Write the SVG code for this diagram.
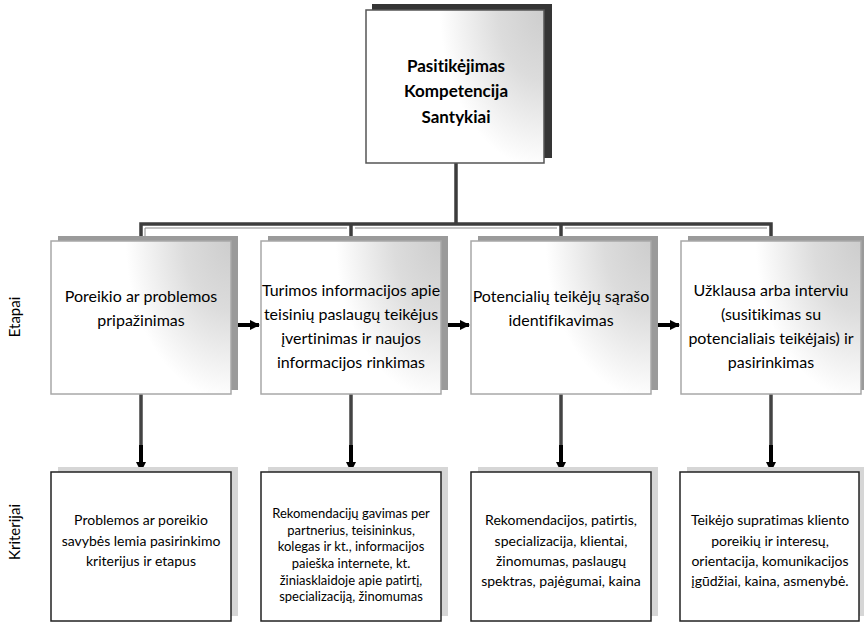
<svg xmlns="http://www.w3.org/2000/svg" width="864" height="626" viewBox="0 0 864 626">
<style>
text{font-family:Lato,"Noto Sans","Liberation Sans",sans-serif;fill:#000;text-anchor:middle;font-variant-ligatures:none;}
.top{font-size:17px;font-weight:bold;}
.st{font-size:16px;}
.cr{font-size:14px;}
.cr2{font-size:13px;}
.lbl{font-size:15px;}
.conn{fill:none;stroke:#3c3c3c;stroke-width:3.5;}
.connin{fill:none;stroke:#8a8a8a;stroke-width:1;}
.arr{fill:none;stroke:#000;stroke-width:4;}
.down{fill:none;stroke:#444;stroke-width:3.5;}
.stbox{fill:url(#g);stroke:#a8a8a8;stroke-width:1.5;}
.stsh{fill:#9a9a9a;}
.crbox{fill:#fff;stroke:#222;stroke-width:1.5;}
.crsh{fill:#d6d6d6;}
</style>
<defs>
<radialGradient id="g" cx="1" cy="0" r="1" fx="1" fy="0" gradientTransform="translate(1,0) scale(0.65,1.15) translate(-1,0)">
<stop offset="0" stop-color="#cdcdcd"/>
<stop offset="0.4" stop-color="#dcdcdc"/>
<stop offset="0.9" stop-color="#fff"/>
</radialGradient>
<marker id="ah" viewBox="0 0 10 10" refX="9" refY="5" markerWidth="2.6" markerHeight="2.6" orient="auto" markerUnits="strokeWidth">
<path d="M0,0 L10,5 L0,10 z" fill="#000"/>
</marker>
</defs>

<g id="connectors">
<path class="conn" d="M456,163 V224 M141,237 V224 H771 V237 M351,224 V237 M561,224 V237"/>
<path class="connin" d="M145,237 V228 H347 M355,228 H557 M565,228 H767"/>
<path class="arr" marker-end="url(#ah)" d="M232,325 H259"/>
<path class="arr" marker-end="url(#ah)" d="M442,325 H469"/>
<path class="arr" marker-end="url(#ah)" d="M652,325 H679"/>
<path class="down" d="M141,394 V446 M351,394 V446 M561,394 V446 M771,394 V446"/>
<path class="arr" marker-end="url(#ah)" d="M141,445 V471"/>
<path class="arr" marker-end="url(#ah)" d="M351,445 V471"/>
<path class="arr" marker-end="url(#ah)" d="M561,445 V471"/>
<path class="arr" marker-end="url(#ah)" d="M771,445 V471"/>
</g>

<g id="top">
<rect x="372" y="4" width="180" height="154" fill="#353535"/>
<rect x="366" y="10" width="178" height="153" fill="url(#g)" stroke="#555" stroke-width="1.5"/>
<text class="top" x="456" y="72">Pasitikėjimas</text>
<text class="top" x="456" y="97">Kompetencija</text>
<text class="top" x="456" y="123">Santykiai</text>
</g>

<g id="label-etapai"><text class="lbl" transform="translate(20,317) rotate(-90)">Etapai</text></g>
<g id="label-kriterijai"><text class="lbl" transform="translate(20,532) rotate(-90)">Kriterijai</text></g>

<g id="stage1">
<rect class="stsh" x="58" y="236" width="180" height="154"/>
<rect class="stbox" x="51" y="241" width="180" height="153"/>
<text class="st" x="141" y="302">Poreikio ar problemos</text>
<text class="st" x="141" y="326">pripažinimas</text>
</g>
<g id="stage2">
<rect class="stsh" x="268" y="236" width="180" height="154"/>
<rect class="stbox" x="261" y="241" width="180" height="153"/>
<text class="st" x="351" y="296">Turimos informacijos apie</text>
<text class="st" x="351" y="320">teisinių paslaugų teikėjus</text>
<text class="st" x="351" y="344">įvertinimas ir naujos</text>
<text class="st" x="351" y="368">informacijos rinkimas</text>
</g>
<g id="stage3">
<rect class="stsh" x="478" y="236" width="180" height="154"/>
<rect class="stbox" x="471" y="241" width="180" height="153"/>
<text class="st" x="561" y="302">Potencialių teikėjų sąrašo</text>
<text class="st" x="561" y="326">identifikavimas</text>
</g>
<g id="stage4">
<rect class="stsh" x="688" y="236" width="180" height="154"/>
<rect class="stbox" x="681" y="241" width="180" height="153"/>
<text class="st" x="771" y="296">Užklausa arba interviu</text>
<text class="st" x="771" y="320">(susitikimas su</text>
<text class="st" x="771" y="344">potencialiais teikėjais) ir</text>
<text class="st" x="771" y="368">pasirinkimas</text>
</g>

<g id="crit1">
<rect class="crsh" x="58" y="467" width="180" height="149"/>
<rect class="crbox" x="51" y="472" width="180" height="149"/>
<text class="cr" x="141" y="525">Problemos ar poreikio</text>
<text class="cr" x="141" y="546">savybės lemia pasirinkimo</text>
<text class="cr" x="141" y="566">kriterijus ir etapus</text>
</g>
<g id="crit2">
<rect class="crsh" x="268" y="467" width="180" height="149"/>
<rect class="crbox" x="261" y="472" width="180" height="149"/>
<text class="cr2" x="351" y="518">Rekomendacijų gavimas per</text>
<text class="cr2" x="351" y="534.5">partnerius, teisininkus,</text>
<text class="cr2" x="351" y="551">kolegas ir kt., informacijos</text>
<text class="cr2" x="351" y="567.5">paieška internete, kt.</text>
<text class="cr2" x="351" y="584.5">žiniasklaidoje apie patirtį,</text>
<text class="cr2" x="351" y="600.5">specializaciją, žinomumas</text>
</g>
<g id="crit3">
<rect class="crsh" x="478" y="467" width="180" height="149"/>
<rect class="crbox" x="471" y="472" width="180" height="149"/>
<text class="cr" x="561" y="525">Rekomendacijos, patirtis,</text>
<text class="cr" x="561" y="546">specializacija, klientai,</text>
<text class="cr" x="561" y="566">žinomumas, paslaugų</text>
<text class="cr" x="561" y="586">spektras, pajėgumai, kaina</text>
</g>
<g id="crit4">
<rect class="crsh" x="687" y="467" width="180" height="149"/>
<rect class="crbox" x="680" y="472" width="179" height="149"/>
<text class="cr" x="770" y="525">Teikėjo supratimas kliento</text>
<text class="cr" x="770" y="546">poreikių ir interesų,</text>
<text class="cr" x="770" y="566">orientacija, komunikacijos</text>
<text class="cr" x="770" y="586">įgūdžiai, kaina, asmenybė.</text>
</g>
</svg>
